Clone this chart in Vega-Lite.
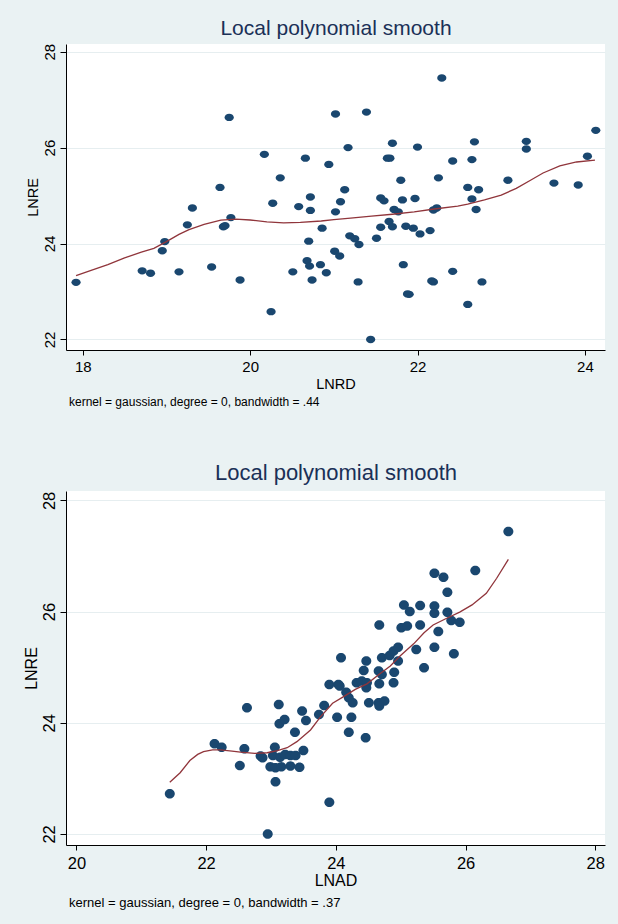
{
  "$schema": "https://vega.github.io/schema/vega-lite/v6.json",
  "background": "#EAF2F3",
  "padding": {"left": 22, "top": 17, "right": 14, "bottom": 18},
  "spacing": 53,
  "config": {
    "view": {"fill": "white", "stroke": null},
    "axis": {
      "domainColor": "black", "tickColor": "black", "labelColor": "black", "titleColor": "black",
      "labelFont": "Liberation Sans", "titleFont": "Liberation Sans", "titleFontWeight": "normal",
      "grid": false, "domainWidth": 1, "tickWidth": 1
    },
    "title": {"font": "Liberation Sans", "fontWeight": "normal", "color": "black"}
  },
  "datasets": {
    "rd": [
      {"LNRD":17.92,"LNRE":23.19},{"LNRD":18.71,"LNRE":23.43},{"LNRD":18.81,"LNRE":23.38},{"LNRD":18.95,"LNRE":23.85},
      {"LNRD":18.98,"LNRE":24.04},{"LNRD":19.15,"LNRE":23.41},{"LNRD":19.25,"LNRE":24.39},{"LNRD":19.31,"LNRE":24.74},
      {"LNRD":19.54,"LNRE":23.51},{"LNRD":19.64,"LNRE":25.17},{"LNRD":19.68,"LNRE":24.35},{"LNRD":19.70,"LNRE":24.37},
      {"LNRD":19.75,"LNRE":26.63},{"LNRD":19.77,"LNRE":24.54},{"LNRD":19.88,"LNRE":23.24},{"LNRD":20.17,"LNRE":25.86},
      {"LNRD":20.25,"LNRE":22.58},{"LNRD":20.27,"LNRE":24.84},{"LNRD":20.36,"LNRE":25.37},{"LNRD":20.51,"LNRE":23.41},
      {"LNRD":20.58,"LNRE":24.77},{"LNRD":20.66,"LNRE":25.78},{"LNRD":20.68,"LNRE":23.64},{"LNRD":20.70,"LNRE":24.05},
      {"LNRD":20.71,"LNRE":23.53},{"LNRD":20.72,"LNRE":24.97},{"LNRD":20.72,"LNRE":24.69},{"LNRD":20.74,"LNRE":23.24},
      {"LNRD":20.84,"LNRE":23.56},{"LNRD":20.86,"LNRE":24.32},{"LNRD":20.91,"LNRE":23.39},{"LNRD":20.94,"LNRE":25.65},
      {"LNRD":21.02,"LNRE":26.70},{"LNRD":21.02,"LNRE":24.66},{"LNRD":21.01,"LNRE":23.84},{"LNRD":21.07,"LNRE":23.74},
      {"LNRD":21.13,"LNRE":25.12},{"LNRD":21.08,"LNRE":24.87},{"LNRD":21.17,"LNRE":26.00},{"LNRD":21.19,"LNRE":24.16},
      {"LNRD":21.25,"LNRE":24.10},{"LNRD":21.29,"LNRE":23.20},{"LNRD":21.30,"LNRE":23.98},{"LNRD":21.39,"LNRE":26.74},
      {"LNRD":21.44,"LNRE":22.00},{"LNRD":21.51,"LNRE":24.11},{"LNRD":21.56,"LNRE":24.34},{"LNRD":21.56,"LNRE":24.95},
      {"LNRD":21.60,"LNRE":24.89},{"LNRD":21.64,"LNRE":25.78},{"LNRD":21.67,"LNRE":25.78},{"LNRD":21.66,"LNRE":24.46},
      {"LNRD":21.70,"LNRE":26.09},{"LNRD":21.70,"LNRE":24.35},{"LNRD":21.72,"LNRE":24.71},{"LNRD":21.77,"LNRE":24.66},
      {"LNRD":21.80,"LNRE":25.32},{"LNRD":21.82,"LNRE":24.91},{"LNRD":21.83,"LNRE":23.56},{"LNRD":21.86,"LNRE":24.36},
      {"LNRD":21.90,"LNRE":22.94},{"LNRD":21.88,"LNRE":22.95},{"LNRD":21.95,"LNRE":24.32},{"LNRD":21.97,"LNRE":24.94},
      {"LNRD":22.00,"LNRE":26.01},{"LNRD":22.03,"LNRE":24.20},{"LNRD":22.15,"LNRE":24.27},{"LNRD":22.19,"LNRE":23.20},
      {"LNRD":22.17,"LNRE":23.22},{"LNRD":22.19,"LNRE":24.70},{"LNRD":22.23,"LNRE":24.74},{"LNRD":22.25,"LNRE":25.37},
      {"LNRD":22.29,"LNRE":27.45},{"LNRD":22.42,"LNRE":25.72},{"LNRD":22.42,"LNRE":23.42},{"LNRD":22.60,"LNRE":25.17},
      {"LNRD":22.60,"LNRE":22.73},{"LNRD":22.65,"LNRE":25.75},{"LNRD":22.65,"LNRE":24.93},{"LNRD":22.68,"LNRE":26.12},
      {"LNRD":22.70,"LNRE":24.71},{"LNRD":22.73,"LNRE":25.12},{"LNRD":22.77,"LNRE":23.20},{"LNRD":23.08,"LNRE":25.32},
      {"LNRD":23.30,"LNRE":26.13},{"LNRD":23.30,"LNRE":25.97},{"LNRD":23.63,"LNRE":25.26},{"LNRD":23.92,"LNRE":25.22},
      {"LNRD":24.03,"LNRE":25.82},{"LNRD":24.13,"LNRE":26.36}
    ],
    "rd_fit": [
      {"LNRD":17.92,"fit":23.33},{"LNRD":18.1,"fit":23.44},{"LNRD":18.3,"fit":23.56},{"LNRD":18.5,"fit":23.70},
      {"LNRD":18.7,"fit":23.82},{"LNRD":18.85,"fit":23.90},{"LNRD":19.0,"fit":24.04},{"LNRD":19.15,"fit":24.19},
      {"LNRD":19.27,"fit":24.29},{"LNRD":19.45,"fit":24.40},{"LNRD":19.65,"fit":24.49},{"LNRD":19.83,"fit":24.51},
      {"LNRD":20.0,"fit":24.49},{"LNRD":20.2,"fit":24.45},{"LNRD":20.4,"fit":24.43},{"LNRD":20.6,"fit":24.44},
      {"LNRD":20.85,"fit":24.47},{"LNRD":21.0,"fit":24.50},{"LNRD":21.2,"fit":24.53},{"LNRD":21.45,"fit":24.57},
      {"LNRD":21.7,"fit":24.61},{"LNRD":21.96,"fit":24.66},{"LNRD":22.2,"fit":24.72},{"LNRD":22.48,"fit":24.78},
      {"LNRD":22.6,"fit":24.82},{"LNRD":22.8,"fit":24.91},{"LNRD":23.0,"fit":25.01},{"LNRD":23.18,"fit":25.15},
      {"LNRD":23.35,"fit":25.32},{"LNRD":23.5,"fit":25.47},{"LNRD":23.7,"fit":25.62},{"LNRD":23.9,"fit":25.70},
      {"LNRD":24.12,"fit":25.74}
    ],
    "ad": [
      {"LNAD":21.44,"LNRE":22.72},{"LNAD":22.13,"LNRE":23.62},{"LNAD":22.24,"LNRE":23.56},{"LNAD":22.52,"LNRE":23.23},
      {"LNAD":22.59,"LNRE":23.53},{"LNAD":22.63,"LNRE":24.27},{"LNAD":22.84,"LNRE":23.40},{"LNAD":22.87,"LNRE":23.37},
      {"LNAD":22.95,"LNRE":22.00},{"LNAD":23.06,"LNRE":23.56},{"LNAD":23.03,"LNRE":23.41},{"LNAD":22.99,"LNRE":23.21},
      {"LNAD":23.07,"LNRE":23.19},{"LNAD":23.16,"LNRE":23.21},{"LNAD":23.07,"LNRE":22.94},{"LNAD":23.12,"LNRE":24.33},
      {"LNAD":23.13,"LNRE":23.98},{"LNAD":23.21,"LNRE":24.06},{"LNAD":23.14,"LNRE":23.38},{"LNAD":23.22,"LNRE":23.43},
      {"LNAD":23.30,"LNRE":23.41},{"LNAD":23.38,"LNRE":23.41},{"LNAD":23.30,"LNRE":23.22},{"LNAD":23.44,"LNRE":23.20},
      {"LNAD":23.37,"LNRE":23.83},{"LNAD":23.48,"LNRE":24.21},{"LNAD":23.54,"LNRE":24.04},{"LNAD":23.50,"LNRE":23.50},
      {"LNAD":23.90,"LNRE":22.57},{"LNAD":23.74,"LNRE":24.15},{"LNAD":23.82,"LNRE":24.31},{"LNAD":23.90,"LNRE":24.69},
      {"LNAD":24.04,"LNRE":24.69},{"LNAD":24.06,"LNRE":24.66},{"LNAD":24.08,"LNRE":25.17},{"LNAD":24.02,"LNRE":24.10},
      {"LNAD":24.16,"LNRE":24.55},{"LNAD":24.20,"LNRE":24.45},{"LNAD":24.26,"LNRE":24.36},{"LNAD":24.20,"LNRE":23.83},
      {"LNAD":24.24,"LNRE":24.10},{"LNAD":24.46,"LNRE":23.73},{"LNAD":24.32,"LNRE":24.72},{"LNAD":24.40,"LNRE":24.75},
      {"LNAD":24.48,"LNRE":24.72},{"LNAD":24.47,"LNRE":24.63},{"LNAD":24.43,"LNRE":24.94},{"LNAD":24.47,"LNRE":25.11},
      {"LNAD":24.51,"LNRE":24.36},{"LNAD":24.66,"LNRE":24.36},{"LNAD":24.75,"LNRE":24.39},{"LNAD":24.67,"LNRE":24.30},
      {"LNAD":24.67,"LNRE":25.76},{"LNAD":24.66,"LNRE":24.93},{"LNAD":24.71,"LNRE":24.87},{"LNAD":24.67,"LNRE":24.70},
      {"LNAD":24.71,"LNRE":25.17},{"LNAD":24.83,"LNRE":25.21},{"LNAD":24.89,"LNRE":25.29},{"LNAD":24.96,"LNRE":25.36},
      {"LNAD":24.96,"LNRE":25.11},{"LNAD":24.90,"LNRE":24.91},{"LNAD":24.89,"LNRE":24.72},{"LNAD":25.01,"LNRE":25.71},
      {"LNAD":25.10,"LNRE":25.74},{"LNAD":25.05,"LNRE":26.12},{"LNAD":25.14,"LNRE":26.00},{"LNAD":25.30,"LNRE":26.11},
      {"LNAD":25.30,"LNRE":25.76},{"LNAD":25.24,"LNRE":25.32},{"LNAD":25.36,"LNRE":24.99},{"LNAD":25.52,"LNRE":26.69},
      {"LNAD":25.52,"LNRE":26.10},{"LNAD":25.52,"LNRE":25.97},{"LNAD":25.52,"LNRE":25.36},{"LNAD":25.58,"LNRE":25.64},
      {"LNAD":25.66,"LNRE":26.62},{"LNAD":25.72,"LNRE":26.35},{"LNAD":25.72,"LNRE":25.99},{"LNAD":25.78,"LNRE":25.84},
      {"LNAD":25.82,"LNRE":25.24},{"LNAD":25.91,"LNRE":25.81},{"LNAD":26.15,"LNRE":26.74},{"LNAD":26.66,"LNRE":27.44}
    ],
    "ad_fit": [
      {"LNAD":21.44,"fit":22.93},{"LNAD":21.6,"fit":23.10},{"LNAD":21.75,"fit":23.32},{"LNAD":21.87,"fit":23.43},
      {"LNAD":21.96,"fit":23.48},{"LNAD":22.1,"fit":23.51},{"LNAD":22.22,"fit":23.51},{"LNAD":22.4,"fit":23.49},
      {"LNAD":22.53,"fit":23.47},{"LNAD":22.75,"fit":23.45},{"LNAD":22.94,"fit":23.46},{"LNAD":23.1,"fit":23.50},
      {"LNAD":23.25,"fit":23.55},{"LNAD":23.4,"fit":23.66},{"LNAD":23.61,"fit":23.87},{"LNAD":23.76,"fit":24.10},
      {"LNAD":23.95,"fit":24.35},{"LNAD":24.12,"fit":24.47},{"LNAD":24.3,"fit":24.60},{"LNAD":24.48,"fit":24.70},
      {"LNAD":24.68,"fit":24.88},{"LNAD":24.84,"fit":25.02},{"LNAD":24.99,"fit":25.20},{"LNAD":25.2,"fit":25.42},
      {"LNAD":25.36,"fit":25.62},{"LNAD":25.5,"fit":25.76},{"LNAD":25.71,"fit":25.88},{"LNAD":25.91,"fit":25.99},
      {"LNAD":26.1,"fit":26.12},{"LNAD":26.32,"fit":26.33},{"LNAD":26.48,"fit":26.60},{"LNAD":26.66,"fit":26.94}
    ]
  },
  "vconcat": [
    {
      "width": 539,
      "height": 306,
      "title": {"text": "kernel = gaussian, degree = 0, bandwidth = .44", "orient": "bottom", "anchor": "start", "frame": "group", "fontSize": 12, "offset": 6, "dx": 3},
      "resolve": {"axis": {"x": "independent"}},
      "layer": [
        {
          "data": {"name": "rd"},
          "mark": {"type": "point", "shape": "M-1,0A1,0.8,0,1,1,1,0A1,0.8,0,1,1,-1,0Z", "filled": true, "size": 85, "color": "#1A476F", "opacity": 1},
          "encoding": {
            "x": {"field": "LNRD", "type": "quantitative", "scale": {"domain": [17.8, 24.24], "nice": false, "zero": false},
              "axis": {"values": [18, 20, 22, 24], "title": "LNRD", "tickSize": 5, "labelPadding": 4, "labelFontSize": 15, "titleFontSize": 14.5, "titlePadding": 3}},
            "y": {"field": "LNRE", "type": "quantitative", "scale": {"domain": [21.78, 28.16], "nice": false, "zero": false},
              "axis": {"values": [22, 24, 26, 28], "title": "LNRE", "grid": true, "gridColor": "#E6EEF0", "labelAngle": -90, "labelAlign": "center", "labelBaseline": "alphabetic", "tickSize": 6, "labelPadding": 6, "labelFontSize": 15, "titleFontSize": 14.5, "titlePadding": 2}}
          }
        },
        {
          "data": {"name": "rd_fit"},
          "mark": {"type": "line", "color": "#90353B", "strokeWidth": 1.3},
          "encoding": {
            "x": {"field": "LNRD", "type": "quantitative", "scale": {"domain": [17.8, 24.24], "nice": false, "zero": false},
              "axis": {"orient": "top", "title": "Local polynomial smooth", "labels": false, "ticks": false, "domain": false, "grid": false, "titleFontSize": 21, "titleColor": "#1A3057", "titlePadding": 6}},
            "y": {"field": "fit", "type": "quantitative"}
          }
        }
      ]
    },
    {
      "width": 539,
      "height": 354,
      "title": {"text": "kernel = gaussian, degree = 0, bandwidth = .37", "orient": "bottom", "anchor": "start", "frame": "group", "fontSize": 13, "offset": 8, "dx": 3},
      "resolve": {"axis": {"x": "independent"}},
      "layer": [
        {
          "data": {"name": "ad"},
          "mark": {"type": "point", "shape": "M-1,0A1,0.95,0,1,1,1,0A1,0.95,0,1,1,-1,0Z", "filled": true, "size": 100, "color": "#1A476F", "opacity": 1},
          "encoding": {
            "x": {"field": "LNAD", "type": "quantitative", "scale": {"domain": [19.84, 28.15], "nice": false, "zero": false},
              "axis": {"values": [20, 22, 24, 26, 28], "title": "LNAD", "tickSize": 5, "labelPadding": 5, "labelFontSize": 16.5, "titleFontSize": 16, "titlePadding": 1}},
            "y": {"field": "LNRE", "type": "quantitative", "scale": {"domain": [21.8, 28.17], "nice": false, "zero": false},
              "axis": {"values": [22, 24, 26, 28], "title": "LNRE", "grid": true, "gridColor": "#E6EEF0", "labelAngle": -90, "labelAlign": "center", "labelBaseline": "alphabetic", "tickSize": 6, "labelPadding": 6, "labelFontSize": 16.5, "titleFontSize": 16, "titlePadding": 2}}
          }
        },
        {
          "data": {"name": "ad_fit"},
          "mark": {"type": "line", "color": "#90353B", "strokeWidth": 1.3},
          "encoding": {
            "x": {"field": "LNAD", "type": "quantitative", "scale": {"domain": [19.84, 28.15], "nice": false, "zero": false},
              "axis": {"orient": "top", "title": "Local polynomial smooth", "labels": false, "ticks": false, "domain": false, "grid": false, "titleFontSize": 22, "titleColor": "#1A3057", "titlePadding": 7}},
            "y": {"field": "fit", "type": "quantitative"}
          }
        }
      ]
    }
  ]
}
